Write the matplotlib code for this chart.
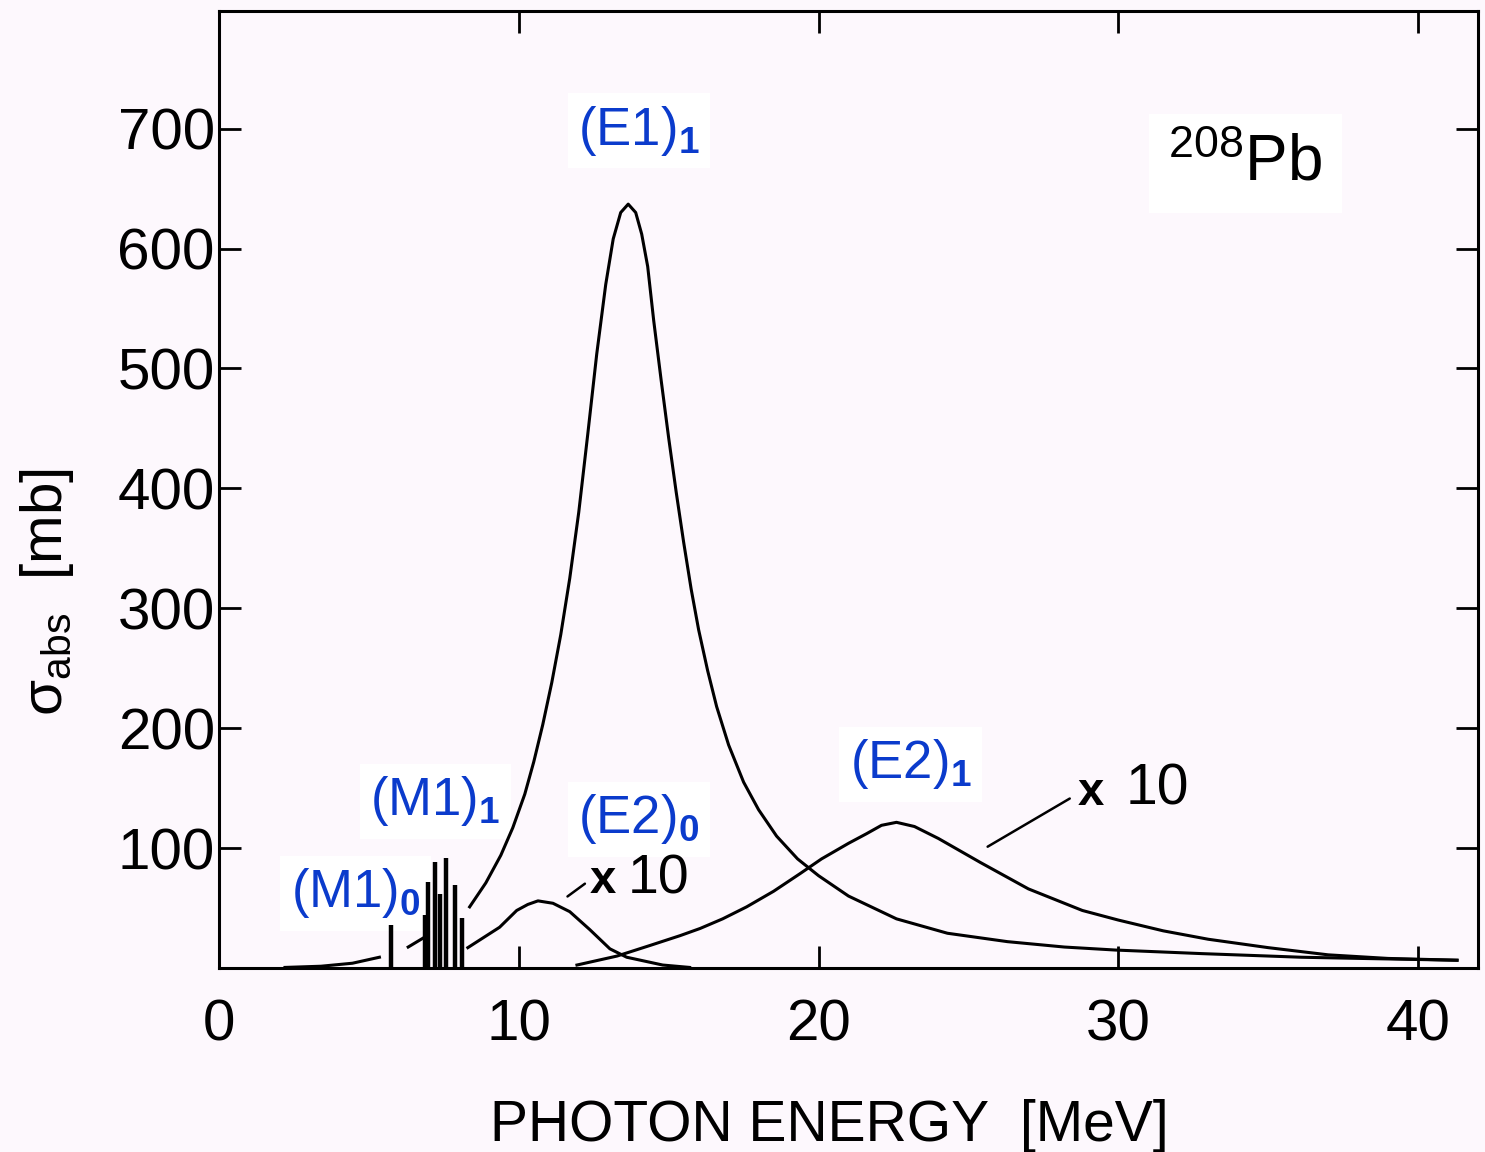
import numpy as np
import matplotlib
matplotlib.use("Agg")
import matplotlib.pyplot as plt

# ---------------- data ----------------
# (E1)_1 giant dipole resonance, with small low-energy fragments (NaN = gap)
e1_energy = [2.2, 3.4, 4.45, 5.35, np.nan, 6.31, 6.81, np.nan,
             8.36, 8.9, 9.4, 9.8, 10.2, 10.5, 10.8, 11.1, 11.4, 11.7,
             12.0, 12.3, 12.6, 12.9, 13.15, 13.4, 13.65, 13.9, 14.1, 14.3,
             14.5, 14.75, 15.0, 15.25, 15.5, 15.75, 16.0, 16.3, 16.6, 17.0,
             17.5, 18.0, 18.6, 19.3, 20.0, 21.0, 22.6, 24.3, 26.3, 28.2,
             29.9, 32.8, 36.1, 38.1, 41.3]
e1_sigma = [0.5, 1.5, 4, 9, np.nan, 17.5, 25, np.nan,
            51, 71, 94, 117, 145, 172, 203, 238, 278, 325,
            380, 445, 512, 570, 608, 630, 637, 630, 612, 585,
            540, 490, 442, 397, 355, 316, 282, 248, 218, 186,
            155, 132, 110, 91, 77, 60, 41, 29, 22, 17.5,
            15, 12, 9, 8, 6.5]

# (E2)_0 isoscalar quadrupole, drawn x10
e2_0_energy = [8.3, 9.36, 9.93, 10.3, 10.64, 11.14, 11.7, 12.37, 13.04, 13.6, 14.8, 15.7]
e2_0_sigma = [17, 34, 48, 53, 56, 54, 47, 32, 16, 9, 2.5, 0.5]

# (E2)_1 isovector quadrupole, drawn x10
e2_1_energy = [11.94, 13.28, 14.4, 15.38, 16.05, 16.8, 17.6, 18.5, 19.4, 20.1,
               21.0, 21.6, 22.1, 22.6, 23.2, 24.0, 25.4, 27.0, 28.8, 30.0,
               31.5, 33.0, 35.0, 37.0, 39.0, 41.3]
e2_1_sigma = [2.5, 10, 19, 27, 33, 41, 51, 64, 79, 91,
              104, 112, 119, 121.5, 118, 108, 88, 66, 48, 40,
              31, 24, 17, 11, 8, 6.5]

# M1 discrete lines
m1_energy = [5.74, 6.87, 6.97, 7.2, 7.37, 7.57, 7.87, 8.1]
m1_sigma = [36, 44, 72, 88, 62, 92, 69, 42]

x_ticks = [0, 10, 20, 30, 40]
y_ticks = [100, 200, 300, 400, 500, 600, 700]

# ---------------- style ----------------
BG = "#fdf8fd"
BLUE = "#0b3bcc"
plt.rcParams["font.family"] = ["Liberation Sans", "DejaVu Sans"]
plt.rcParams["mathtext.fontset"] = "custom"
plt.rcParams["mathtext.rm"] = "Liberation Sans"
plt.rcParams["mathtext.bf"] = "Liberation Sans:bold"
plt.rcParams["mathtext.default"] = "regular"

fig = plt.figure(figsize=(14.85, 11.52), dpi=100, facecolor=BG)
ax = fig.add_axes([0.1475, 0.1597, 0.8478, 0.8307], facecolor=BG)

lw = 2.2
ax.plot(e1_energy, e1_sigma, color="black", lw=lw, solid_joinstyle="round", zorder=4)
ax.plot(e2_0_energy, e2_0_sigma, color="black", lw=lw, solid_joinstyle="round", zorder=4)
ax.plot(e2_1_energy, e2_1_sigma, color="black", lw=lw, solid_joinstyle="round", zorder=4)
ax.vlines(m1_energy, 0, m1_sigma, color="black", lw=3.2, zorder=4)

ax.set_xlim(0, 42.0)
ax.set_ylim(0, 798)
ax.set_xticks(x_ticks)
ax.set_yticks(y_ticks)
ax.set_xticklabels([str(v) for v in x_ticks])
ax.set_yticklabels([str(v) for v in y_ticks])

for s in ax.spines.values():
    s.set_linewidth(2.2)
    s.set_color("black")

ax.tick_params(which="both", direction="in", length=16, width=2,
               top=True, right=True, colors="black")
ax.tick_params(axis="x", labelsize=42, pad=22)
ax.tick_params(axis="y", labelsize=42, pad=3)

ax.set_xlabel("PHOTON ENERGY  [MeV]", fontsize=41)
ax.xaxis.set_label_coords(0.4845, -0.137)
ax.set_ylabel(r"$\sigma_{abs}$  [mb]", fontsize=42)
ax.yaxis.set_label_coords(-0.114, 0.393)

# blue resonance labels
box = dict(boxstyle="square,pad=0.2", facecolor="white", edgecolor="none")
lab_kw = dict(color=BLUE, fontsize=38, family="Liberation Sans",
              ha="left", va="baseline", bbox=box, zorder=3)
ax.text(11.98, 686.7, r"(E1)$_\mathbf{1}$", **lab_kw)
ax.text(5.04, 127.5, r"(M1)$_\mathbf{1}$", **lab_kw)
ax.text(2.4, 50.8, r"(M1)$_\mathbf{0}$", **lab_kw)
ax.text(11.98, 112.5, r"(E2)$_\mathbf{0}$", **lab_kw)
ax.text(21.05, 158.3, r"(E2)$_\mathbf{1}$", **lab_kw)

# nucleus label
ax.text(31.66, 656.7, r"$^{208}$Pb", fontsize=46, family="Liberation Sans",
        color="black", ha="left", va="baseline",
        bbox=dict(boxstyle="square,pad=0.3", facecolor="white", edgecolor="none"),
        zorder=3)

# x10 markers with leader lines
ax.annotate("", xy=(12.28, 71.7), xytext=(11.55, 58.3),
            arrowprops=dict(arrowstyle="-", lw=1.8, color="black"), zorder=7)
ax.text(12.38, 62.5, "x", fontsize=34, fontweight="bold", ha="left",
        va="baseline", zorder=7)
ax.text(13.65, 62.5, "10", fontsize=40, ha="left", va="baseline", zorder=7)
ax.annotate("", xy=(28.46, 142.5), xytext=(25.56, 100),
            arrowprops=dict(arrowstyle="-", lw=1.8, color="black"), zorder=7)
ax.text(28.63, 136, "x", fontsize=34, fontweight="bold", ha="left",
        va="baseline", zorder=7)
ax.text(30.23, 136, "10", fontsize=41, ha="left", va="baseline", zorder=7)

fig.savefig("out.png", dpi=100, facecolor=BG)
